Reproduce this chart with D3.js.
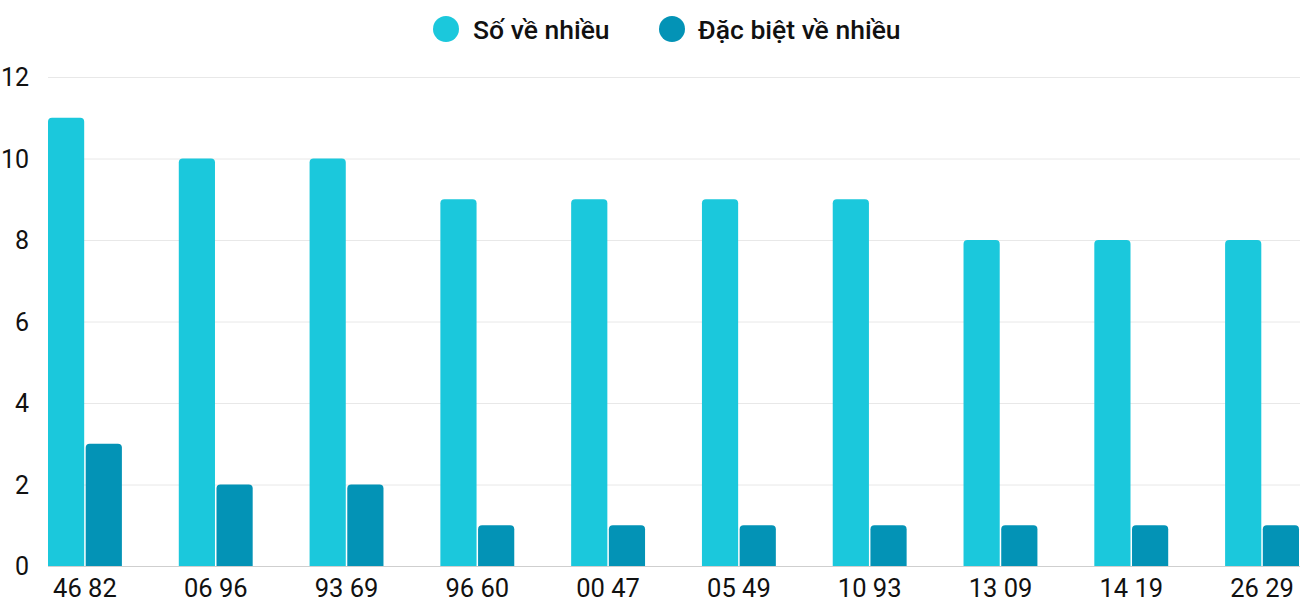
<!DOCTYPE html>
<html><head><meta charset="utf-8">
<script src="https://cdn.jsdelivr.net/npm/d3@7"></script>
<style>body{margin:0;background:#fff;}svg{display:block;font-family:Roboto,sans-serif;}</style>
</head><body>
<svg id="c" width="1300" height="600"></svg>
<script>
const categories = ["46 82","06 96","93 69","96 60","00 47","05 49","10 93","13 09","14 19","26 29"];
const soVeNhieu = [11,10,10,9,9,9,9,8,8,8];
const dacBiet = [3,2,2,1,1,1,1,1,1,1];
const yTicks = [0,2,4,6,8,10,12];
const seriesNames = ["Số về nhiều","Đặc biệt về nhiều"];
const colors = ["#1bc8dc","#0393b6"];

(function(){
const svg = d3.select("#c");
const pLeft = 48, pRight = 1299, pTop = 77, pBottom = 566;
const x = d3.scaleBand().domain(categories).range([pLeft, pRight]).paddingInner(0.435).paddingOuter(0);
const y = d3.scaleLinear().domain([0,12]).range([pBottom, pTop]);
const x1 = d3.scaleBand().domain([0,1]).range([0, x.bandwidth()]).paddingInner(0.04);

svg.append("g").selectAll("line").data(yTicks).join("line")
  .attr("x1", pLeft).attr("x2", 1300)
  .attr("y1", d => y(d)+0.5).attr("y2", d => y(d)+0.5)
  .attr("stroke", d => d===0 ? "#cfcfcf" : "#e8e8e8").attr("stroke-width",1);

svg.append("g").selectAll("text").data(yTicks).join("text")
  .attr("x", 29).attr("y", d => y(d)).attr("dy","0.36em")
  .attr("text-anchor","end").attr("font-size",25).attr("fill","#111")
  .text(d => d);

function topRounded(x0, y0, w, h, r) {
  r = Math.min(r, h, w/2);
  return `M${x0},${y0+h}V${y0+r}Q${x0},${y0} ${x0+r},${y0}H${x0+w-r}Q${x0+w},${y0} ${x0+w},${y0+r}V${y0+h}Z`;
}

const series = [soVeNhieu, dacBiet];
series.forEach((vals, si) => {
  svg.append("g").selectAll("path").data(vals).join("path")
    .attr("fill", colors[si])
    .attr("d", (v,i) => {
      const bx = x(categories[i]) + x1(si);
      const by = y(v);
      return topRounded(bx, by, x1.bandwidth(), pBottom - by, 4);
    });
});

svg.append("g").selectAll("text").data(categories).join("text")
  .attr("x", d => x(d) + x.bandwidth()/2).attr("y", 597)
  .attr("text-anchor","middle").attr("font-size",25.5).attr("fill","#111")
  .text(d => d);

const leg = [{cx:446, tx:473},{cx:672, tx:698}];
seriesNames.forEach((n,i) => {
  svg.append("circle").attr("cx", leg[i].cx).attr("cy", 29).attr("r", 13).attr("fill", colors[i]);
  svg.append("text").attr("x", leg[i].tx).attr("y", 29).attr("dy","0.36em")
    .attr("font-size",26.5).attr("font-weight",500).attr("fill","#111").text(n);
});
})();
</script>
</body></html>
